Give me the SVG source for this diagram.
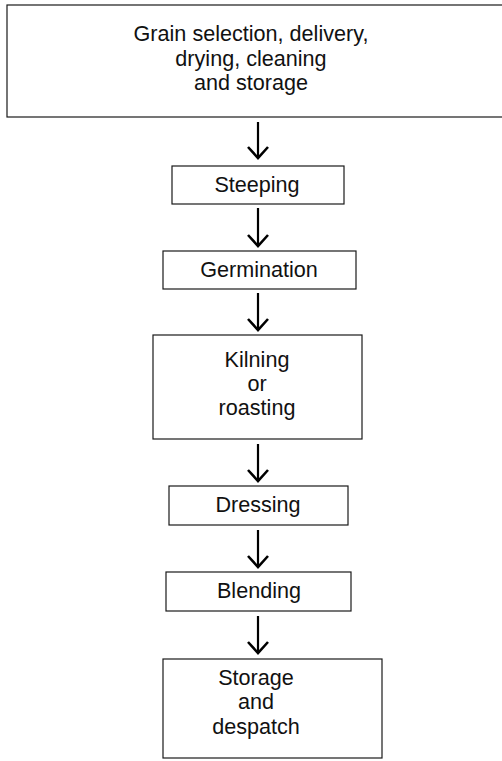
<svg xmlns="http://www.w3.org/2000/svg" width="502" height="761" viewBox="0 0 502 761">
  <style>
    .box { fill: #ffffff; stroke: #1a1a1a; stroke-width: 1.2; }
    .lbl { font-family: "Liberation Sans", Arial, Helvetica, sans-serif; font-size: 21.6px; fill: #111111; text-anchor: middle; }
    .shaft { stroke: #000000; stroke-width: 2.2; fill: none; }
    .head { stroke: #000000; stroke-width: 2.6; fill: none; stroke-linejoin: miter; }
  </style>
  <defs>
    <!-- open V arrowhead, tip at origin -->
    <path id="vhead" class="head" d="M -10 -11 L 0 0 L 10 -11"/>
  </defs>
  <rect width="502" height="761" fill="#ffffff"/>

  <g id="grain">
    <rect class="box" x="7" y="5" width="500" height="112"/>
    <text class="lbl" x="251" y="41">Grain selection, delivery,</text>
    <text class="lbl" x="251" y="66">drying, cleaning</text>
    <text class="lbl" x="251" y="90">and storage</text>
  </g>

  <g id="steeping">
    <rect class="box" x="172" y="166" width="172" height="38"/>
    <text class="lbl" x="257" y="192">Steeping</text>
  </g>

  <g id="germination">
    <rect class="box" x="163" y="251" width="193" height="38"/>
    <text class="lbl" x="259" y="277">Germination</text>
  </g>

  <g id="kilning">
    <rect class="box" x="153" y="335" width="209" height="104"/>
    <text class="lbl" x="257" y="367">Kilning</text>
    <text class="lbl" x="257" y="391">or</text>
    <text class="lbl" x="257" y="415">roasting</text>
  </g>

  <g id="dressing">
    <rect class="box" x="169" y="486" width="179" height="39"/>
    <text class="lbl" x="258" y="512">Dressing</text>
  </g>

  <g id="blending">
    <rect class="box" x="166" y="572" width="185" height="39"/>
    <text class="lbl" x="259" y="598">Blending</text>
  </g>

  <g id="storage">
    <rect class="box" x="163" y="659" width="219" height="99"/>
    <text class="lbl" x="256" y="685">Storage</text>
    <text class="lbl" x="256" y="709">and</text>
    <text class="lbl" x="256" y="734">despatch</text>
  </g>

  <g id="connectors">
    <line class="shaft" x1="258" y1="122" x2="258" y2="157"/>
    <use href="#vhead" x="258" y="158"/>
    <line class="shaft" x1="258" y1="208" x2="258" y2="245"/>
    <use href="#vhead" x="258" y="246"/>
    <line class="shaft" x1="258" y1="293" x2="258" y2="329"/>
    <use href="#vhead" x="258" y="330"/>
    <line class="shaft" x1="258" y1="444" x2="258" y2="480"/>
    <use href="#vhead" x="258" y="481"/>
    <line class="shaft" x1="258" y1="530" x2="258" y2="566"/>
    <use href="#vhead" x="258" y="567"/>
    <line class="shaft" x1="258" y1="616" x2="258" y2="652"/>
    <use href="#vhead" x="258" y="653"/>
  </g>
</svg>
